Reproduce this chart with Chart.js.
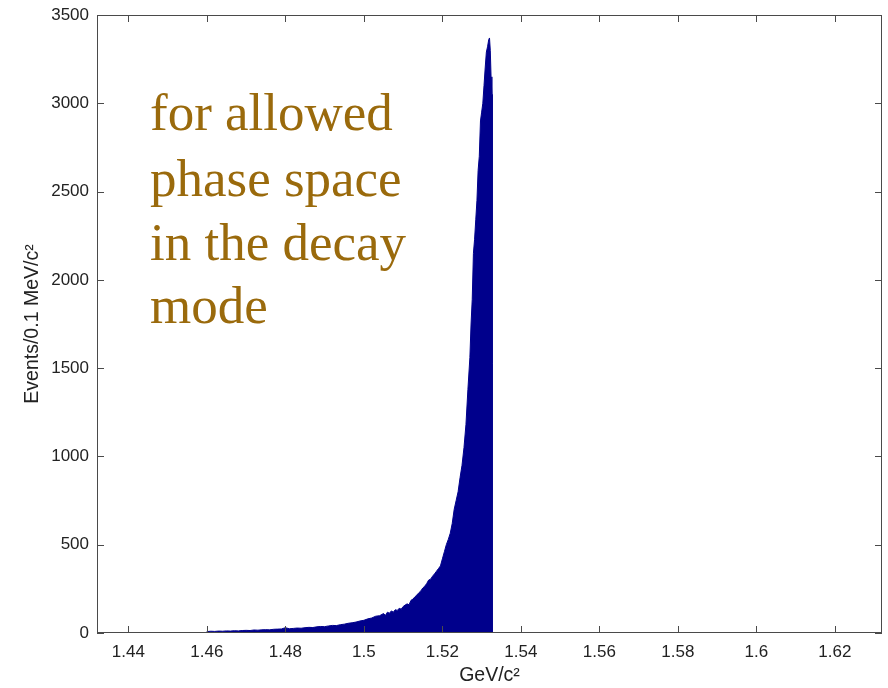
<!DOCTYPE html>
<html><head><meta charset="utf-8">
<script src="https://cdn.jsdelivr.net/npm/chart.js@4"></script>
<style>html,body{margin:0;padding:0;background:#fff;}#wrap{position:relative;width:888px;height:688px;}</style>
</head><body><div id="wrap"><canvas id="c" width="888" height="688"></canvas></div>
<script>
const massGeV = [1.4600,1.4600,1.4610,1.4620,1.4630,1.4640,1.4650,1.4660,1.4670,1.4680,1.4690,1.4700,1.4710,1.4720,1.4730,1.4740,1.4750,1.4760,1.4770,1.4780,1.4790,1.4800,1.4810,1.4820,1.4830,1.4840,1.4850,1.4860,1.4870,1.4880,1.4890,1.4900,1.4910,1.4920,1.4930,1.4940,1.4950,1.4960,1.4970,1.4980,1.4990,1.5000,1.5010,1.5020,1.5030,1.5040,1.5050,1.5055,1.5060,1.5065,1.5070,1.5075,1.5080,1.5085,1.5090,1.5095,1.5100,1.5105,1.5110,1.5115,1.5120,1.5125,1.5130,1.5135,1.5140,1.5145,1.5150,1.5155,1.5160,1.5165,1.5170,1.5175,1.5180,1.5185,1.5190,1.5195,1.5200,1.5205,1.5210,1.5215,1.5220,1.5225,1.5230,1.5235,1.5240,1.5245,1.5250,1.5255,1.5260,1.5265,1.5270,1.5273,1.5276,1.5279,1.5282,1.5285,1.5288,1.5291,1.5294,1.5297,1.5300,1.5303,1.5306,1.5309,1.5312,1.5315,1.5318,1.5320,1.5322,1.5324,1.5326,1.5327,1.5327];
const events = [0,8,10,9,11,10,12,11,13,12,14,15,14,17,16,18,19,18,21,22,23,30,24,26,28,27,30,32,31,35,37,36,40,43,42,47,50,55,58,62,68,72,80,85,95,98,110,100,118,112,125,118,132,128,140,135,150,158,165,160,185,192,205,215,228,238,255,265,280,300,305,322,335,350,365,380,420,460,500,530,565,620,700,750,800,880,950,1050,1180,1380,1560,1750,1890,2150,2230,2340,2450,2620,2700,2900,2950,3000,3100,3200,3290,3320,3360,3370,3300,3150,3050,3050,0];
const xTickValues = [1.44,1.46,1.48,1.50,1.52,1.54,1.56,1.58,1.60,1.62];
const xTickLabels = ["1.44","1.46","1.48","1.5","1.52","1.54","1.56","1.58","1.6","1.62"];
const yTickValues = [0,500,1000,1500,2000,2500,3000,3500];
const yTickLabels = ["0","500","1000","1500","2000","2500","3000","3500"];
const noteLines = ["for allowed","phase space","in the decay","mode"];
const xTitle = "GeV/c\u00B2";
const yTitle = "Events/0.1 MeV/c\u00B2";

const points = massGeV.map((x,i)=>({x:x,y:events[i]}));
const axisColor = '#4a4a4a';
const tickFont = {family:'"Liberation Sans", Arial, sans-serif', size:17};
const titleFont = {family:'"Liberation Sans", Arial, sans-serif', size:19.5};
const noteOffsets = [115,181,245,308];

const boxPlugin = {
  id:'box',
  afterDraw(chart){
    const {ctx, chartArea:a, scales:{x,y}} = chart;
    ctx.save();
    ctx.strokeStyle = axisColor; ctx.lineWidth = 1;
    ctx.strokeRect(a.left+0.5, a.top+0.5, a.right-a.left-1, a.bottom-a.top-1);
    const L = 7;
    ctx.beginPath();
    xTickValues.forEach(v=>{
      const px = Math.round(x.getPixelForValue(v))+0.5;
      ctx.moveTo(px,a.bottom); ctx.lineTo(px,a.bottom-L);
      ctx.moveTo(px,a.top); ctx.lineTo(px,a.top+L);
    });
    yTickValues.forEach(v=>{
      const py = Math.round(y.getPixelForValue(v))+0.5;
      ctx.moveTo(a.left,py); ctx.lineTo(a.left+L,py);
      ctx.moveTo(a.right,py); ctx.lineTo(a.right-L,py);
    });
    ctx.stroke();
    ctx.fillStyle = '#9a6a0c';
    ctx.font = '53px "Liberation Serif", "Times New Roman", serif';
    ctx.textBaseline = 'alphabetic'; ctx.textAlign = 'left';
    noteLines.forEach((t,i)=>ctx.fillText(t, a.left+53, a.top+noteOffsets[i]));
    ctx.restore();
  }
};

new Chart(document.getElementById('c'), {
  type:'line',
  data:{datasets:[{data:points, borderColor:'#00008c', backgroundColor:'#00008c', borderWidth:1, fill:'origin', pointRadius:0, tension:0}]},
  options:{
    responsive:false, animation:false, devicePixelRatio:1,
    layout:{padding:{top:15,right:6,left:0,bottom:0}},
    plugins:{legend:{display:false}, tooltip:{enabled:false}},
    scales:{
      x:{type:'linear', min:1.432, max:1.632,
        afterFit(s){s.height=55; s.paddingLeft=0; s.paddingRight=0;},
        afterBuildTicks(s){s.ticks = xTickValues.map(v=>({value:v}));},
        ticks:{callback:(v,i)=>xTickLabels[i], color:'#222', font:tickFont, padding:9, maxRotation:0, autoSkip:false},
        grid:{display:true, drawOnChartArea:false, drawTicks:false},
        border:{display:false},
        title:{display:true, text:xTitle, color:'#222', font:titleFont, padding:{top:0,bottom:1}}
      },
      y:{type:'linear', min:0, max:3500,
        afterFit(s){s.width=97; s.paddingTop=0; s.paddingBottom=0;},
        afterBuildTicks(s){s.ticks = yTickValues.map(v=>({value:v}));},
        ticks:{callback:(v,i)=>yTickLabels[i], color:'#222', font:tickFont, padding:8, autoSkip:false},
        grid:{display:true, drawOnChartArea:false, drawTicks:false},
        border:{display:false},
        title:{display:true, text:yTitle, color:'#222', font:titleFont, padding:{top:21,bottom:0}}
      }
    }
  },
  plugins:[boxPlugin]
});
</script>
</body></html>
